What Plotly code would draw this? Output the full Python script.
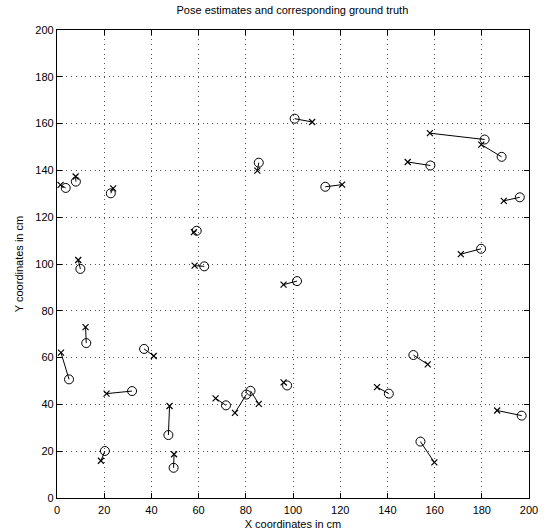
import plotly.graph_objects as go

# Ground truth positions (x markers)
gt_x = [1.5, 7.9, 23.8, 58.0, 84.9, 9.0, 58.3, 96.0, 12.1, 1.7, 41.0, 21.0, 47.7, 18.6, 49.6,
        67.2, 75.4, 85.5, 96.0, 157.1, 135.6, 186.5, 159.9, 108.1, 158.0, 179.8, 148.6, 120.8,
        189.3, 171.1]
gt_y = [133.8, 137.4, 132.3, 113.6, 139.9, 101.7, 99.3, 91.2, 73.0, 62.1, 60.7, 44.6, 39.3, 15.9, 18.7,
        42.6, 36.4, 40.2, 49.4, 57.1, 47.4, 37.4, 15.2, 160.7, 155.9, 151.0, 143.6, 133.9,
        127.0, 104.2]
# Pose estimates (circles)
est_x = [3.7, 8.0, 22.8, 59.2, 85.5, 9.9, 62.4, 101.7, 12.4, 5.1, 36.9, 31.8, 47.2, 20.3, 49.4,
         71.6, 80.2, 82.0, 97.5, 151.0, 140.6, 196.9, 154.0, 100.7, 181.2, 188.4, 158.2, 113.7,
         196.1, 179.7]
est_y = [132.5, 135.2, 130.2, 114.2, 143.3, 97.9, 99.0, 92.7, 66.2, 50.7, 63.7, 45.7, 26.9, 20.1, 12.9,
         39.6, 44.2, 45.8, 48.1, 61.1, 44.6, 35.2, 24.1, 162.1, 153.2, 145.8, 142.1, 133.0,
         128.5, 106.5]

ticks = [0, 20, 40, 60, 80, 100, 120, 140, 160, 180, 200]

lx, ly = [], []
for a, b, c, d in zip(gt_x, gt_y, est_x, est_y):
    lx += [a, c, None]
    ly += [b, d, None]

FONT = "Liberation Sans, Arial, sans-serif"

fig = go.Figure()
fig.add_trace(go.Scatter(x=lx, y=ly, mode="lines", line=dict(color="black", width=1),
                         hoverinfo="skip", showlegend=False))
fig.add_trace(go.Scatter(x=gt_x, y=gt_y, mode="markers",
                         marker=dict(symbol="x-thin-open", size=6, color="black",
                                     line=dict(color="black", width=1.2)),
                         showlegend=False))
fig.add_trace(go.Scatter(x=est_x, y=est_y, mode="markers",
                         marker=dict(symbol="circle-open", size=9, color="black",
                                     line=dict(color="black", width=1)),
                         showlegend=False))

axis_common = dict(
    range=[0, 200], tickvals=ticks, ticktext=[str(t) for t in ticks],
    showgrid=True, gridcolor="#555555", gridwidth=1, griddash="1px,3.7px",
    zeroline=False, showline=True, linecolor="black", linewidth=1.3, mirror="ticks",
    ticks="inside", ticklen=5, tickcolor="black", tickwidth=1, automargin=False,
    tickfont=dict(family=FONT, size=11, color="black"),
)

fig.update_layout(
    width=544, height=532,
    margin=dict(l=57, r=15, t=30, b=34),
    paper_bgcolor="white", plot_bgcolor="white",
    title=dict(text="Pose estimates and corresponding ground truth", x=0.5375, xanchor="center",
               y=0.98, yanchor="middle",
               font=dict(family=FONT, size=11, color="black")),
    xaxis=dict(axis_common, ticklabelstandoff=2,
               title=dict(text="X coordinates in cm", standoff=4,
                          font=dict(family=FONT, size=11, color="black"))),
    yaxis=dict(axis_common, title=dict(text="Y coordinates in cm", standoff=9,
               font=dict(family=FONT, size=11, color="black"))),
)

fig.write_html("out.html")
